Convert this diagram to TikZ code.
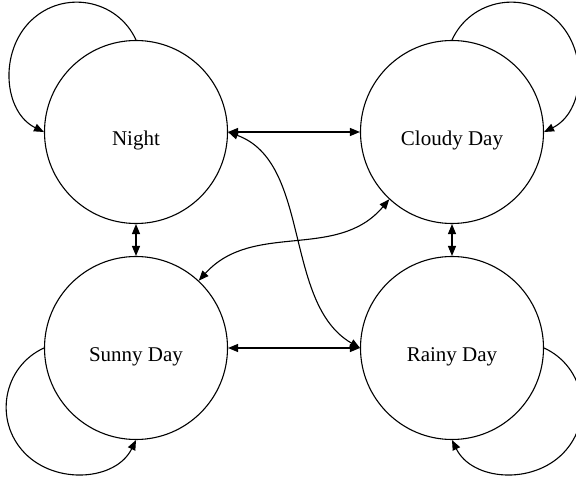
\documentclass[tikz,border=0pt]{standalone}
\usepackage{fontspec}
\setmainfont{Liberation Serif}
\usetikzlibrary{arrows.meta}

\tikzset{
	state/.style={circle, draw, line width=1.1pt, minimum size=183pt, inner sep=0pt,
		text height=28pt, text depth=0pt, font=\fontsize{21}{25}\selectfont},
	link/.style={line width=1.1pt, {Triangle[length=10pt, width=8pt]}-{Triangle[length=10pt, width=8pt]}},
	selfloop/.style={line width=1.1pt, -{Triangle[length=10pt, width=8pt]}}
}

\begin{document}
\begin{tikzpicture}[x=1pt, y=1pt]
				\useasboundingbox (0, 0) rectangle (576, -478);
				\coordinate (N) at (136, -132);
				\coordinate (C) at (452, -132);
				\coordinate (S) at (136, -348);
				\coordinate (R) at (452, -348);
				
				\node[state] (night) at (N) {Night};
				\node[state] (cloudy) at (C) {Cloudy Day};
				\node[state] (sunny) at (S) {Sunny Day};
				\node[state] (rainy) at (R) {Rainy Day};
				
				\draw[link] (night) -- (cloudy);
				\draw[link] (night) -- (sunny);
				\draw[link] (cloudy) -- (rainy);
				\draw[link] (sunny) -- (rainy);
				\draw[link] (night.east) to[out=-20, in=150, looseness=0.9] (rainy.west);
				\draw[link] (cloudy.227) to[out=230, in=48] (sunny.47);
				
				\draw[selfloop] (night.north) .. controls +(-18.7, 40.9) and +(32.4, 31.3) .. ++(-105, 19.3)
					.. controls +(-32.4, -31.3) and +(-40.4, 19.9) .. (night.west);
				\draw[selfloop] (cloudy.north) .. controls +(18.7, 40.9) and +(-32.4, 31.3) .. ++(105, 19.3)
					.. controls +(32.4, -31.3) and +(40.4, 19.9) .. (cloudy.east);
				\draw[selfloop] (sunny.west) .. controls +(-40.9, -18.7) and +(-31.3, 32.4) .. ++(-19.3, -105)
					.. controls +(31.3, -32.4) and +(-19.9, -40.4) .. (sunny.south);
				\draw[selfloop] (rainy.east) .. controls +(40.9, -18.7) and +(31.3, 32.4) .. ++(19.3, -105)
					.. controls +(-31.3, -32.4) and +(19.9, -40.4) .. (rainy.south);
				\end{tikzpicture}
\end{document}
